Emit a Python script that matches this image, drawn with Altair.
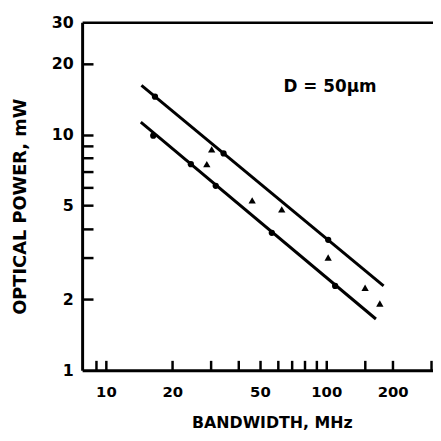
import altair as alt
import pandas as pd

# ---- data ----
upper_circle_bw = [16.7, 34.2, 102]
upper_circle_pw = [14.5, 8.33, 3.58]
lower_circle_bw = [16.4, 24.3, 31.5, 56.6, 109.7]
lower_circle_pw = [9.9, 7.5, 6.07, 3.83, 2.28]
tri_bw = [30.2, 28.7, 46.1, 62.8, 102, 150, 175]
tri_pw = [8.66, 7.5, 5.26, 4.82, 3.01, 2.24, 1.92]
fit_upper_bw = [14.5, 182]
fit_upper_pw = [16.2, 2.28]
fit_lower_bw = [14.4, 168]
fit_lower_pw = [11.3, 1.65]

x_labels = [10, 20, 50, 100, 200]
y_labels = [1, 2, 5, 10, 20, 30]
x_ticks = [9, 10, 20, 30, 40, 50, 60, 70, 80, 90, 100, 150, 200, 300]
y_ticks = [2, 3, 4, 5, 6, 7, 8, 9, 10, 20]

note_text = ["D = 50\u03bcm"]
note_bw = [64]
note_pw = [16.0]

FONT = "DejaVu Sans"
W, H = 355, 352

xs = alt.Scale(type="log", domain=[7.8, 305], nice=False)
ys = alt.Scale(type="log", domain=[1, 30], nice=False)

circles = pd.DataFrame({
    "bw": upper_circle_bw + lower_circle_bw,
    "pw": upper_circle_pw + lower_circle_pw,
})
tris = pd.DataFrame({"bw": tri_bw, "pw": tri_pw})
fits = pd.DataFrame({
    "bw": fit_upper_bw + fit_lower_bw,
    "pw": fit_upper_pw + fit_lower_pw,
    "fit": ["upper"] * 2 + ["lower"] * 2,
})
note = pd.DataFrame({"bw": note_bw, "pw": note_pw, "t": note_text})

# layer with labelled axes (left / bottom)
base_axes = alt.Chart(circles).mark_point(filled=True, color="black", size=40, opacity=1).encode(
    x=alt.X("bw:Q", scale=xs, axis=alt.Axis(
        values=x_labels, ticks=False, tickSize=0, grid=False,
        domainColor="black", domainWidth=3,
        labelFont=FONT, labelFontWeight="bold", labelFontSize=15, labelColor="black",
        labelPadding=15, labelFlush=False,
        title="BANDWIDTH, MHz", titleFont=FONT, titleFontWeight="bold", titleFontSize=16,
        titleColor="black", titleX=192, titleY=53, titleBaseline="middle", titleAlign="center")),
    y=alt.Y("pw:Q", scale=ys, axis=alt.Axis(
        values=y_labels, ticks=False, tickSize=0, grid=False,
        domainColor="black", domainWidth=3,
        labelFont=FONT, labelFontWeight="bold", labelFontSize=16, labelColor="black",
        labelPadding=9, labelFlush=False,
        title="OPTICAL POWER, mW", titleFont=FONT, titleFontWeight="bold", titleFontSize=18,
        titleColor="black", titleAngle=270, titleX=-62, titleY=186,
        titleBaseline="middle", titleAlign="center")),
)

# layer carrying inward tick marks (axes moved onto the opposite side)
tick_axes = alt.Chart(tris).mark_point(shape="triangle-up", filled=True, color="black",
                                       size=55, opacity=1).encode(
    x=alt.X("bw:Q", scale=xs, axis=alt.Axis(
        orient="top", offset=-H, values=x_ticks, labels=False, domain=False, grid=False,
        title=None, ticks=True, tickColor="black", tickWidth=2.5, tickSize=10)),
    y=alt.Y("pw:Q", scale=ys, axis=alt.Axis(
        orient="right", offset=-W, values=y_ticks, labels=False, domain=False, grid=False,
        title=None, ticks=True, tickColor="black", tickWidth=2.5, tickSize=11)),
)

# top frame line
top_frame = alt.Chart(note).mark_point(opacity=0).encode(
    x=alt.X("bw:Q", scale=xs, axis=alt.Axis(
        orient="top", labels=False, ticks=False, grid=False, title=None,
        domainColor="black", domainWidth=2.5)),
    y=alt.Y("pw:Q", scale=ys, axis=None),
)

lines = alt.Chart(fits).mark_line(color="black", strokeWidth=3).encode(
    x=alt.X("bw:Q", scale=xs, axis=None),
    y=alt.Y("pw:Q", scale=ys, axis=None),
    detail="fit:N",
)

label = alt.Chart(note).mark_text(
    font=FONT, fontWeight="bold", fontSize=17, color="black", align="left", baseline="middle"
).encode(
    x=alt.X("bw:Q", scale=xs, axis=None),
    y=alt.Y("pw:Q", scale=ys, axis=None),
    text="t:N",
)

chart = alt.layer(base_axes, tick_axes, top_frame, lines, label).resolve_axis(
    x="independent", y="independent"
).properties(
    width=W, height=H,
    autosize=alt.AutoSizeParams(type="none"),
    padding={"left": 75, "top": 12, "right": 0, "bottom": 60},
    background="white",
).configure_view(stroke=None)

chart.save("out.html", embed_options={"renderer": "svg", "actions": False})
